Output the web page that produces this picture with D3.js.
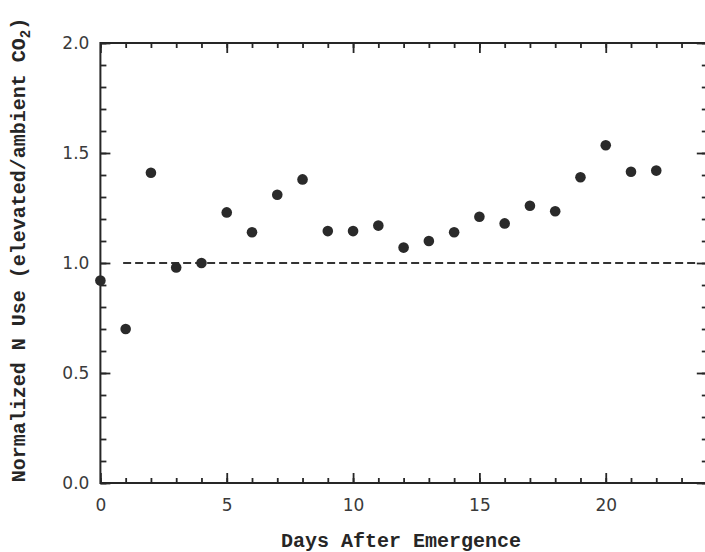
<!DOCTYPE html>
<html>
<head>
<meta charset="utf-8">
<script src="https://cdn.jsdelivr.net/npm/d3@7"></script>
<style>
  html, body { margin: 0; padding: 0; background: #ffffff; }
  svg { display: block; }
</style>
</head>
<body>
<svg id="chart" width="705" height="552"></svg>
<script>
// Days after emergence and normalized N use (elevated / ambient CO2)
const days = [0, 1, 2, 3, 4, 5, 6, 7, 8, 9, 10, 11, 12, 13, 14, 15, 16, 17, 18, 19, 20, 21, 22];
const nUse = [0.92, 0.70, 1.41, 0.98, 1.00, 1.23, 1.14, 1.31, 1.38, 1.145, 1.145, 1.17,
              1.07, 1.10, 1.14, 1.21, 1.18, 1.26, 1.235, 1.39, 1.535, 1.415, 1.42];

// Axis ticks and labels
const xDomain = [0, 24];
const yDomain = [0, 2];
const xMajorTicks = [0, 5, 10, 15, 20];
const xMinorTicks = d3.range(0, 25, 1);
const yMajorTicks = [0.0, 0.5, 1.0, 1.5, 2.0];
const yMajorLabels = ["0.0", "0.5", "1.0", "1.5", "2.0"];
const yMinorTicks = d3.range(0, 2.0001, 0.1);

// Reference line at a ratio of 1 (no CO2 effect)
const refLevel = 1.0;
const refSpan = [0.9, 23.6];

const xTitle = "Days After Emergence";
const yTitleMain = "Normalized N Use (elevated/ambient CO";
const yTitleSub = "2";
const yTitleEnd = ")";

const svg = d3.select("#chart");
const ink = "#262626";

const x = d3.scaleLinear().domain(xDomain).range([100.4, 706.8]);
const y = d3.scaleLinear().domain(yDomain).range([483, 43]);

const [x0, x1] = x.range();
const [yb, yt] = y.range();

// Frame
svg.append("rect")
  .attr("x", x0).attr("y", yt)
  .attr("width", x1 - x0).attr("height", yb - yt)
  .attr("fill", "none").attr("stroke", ink).attr("stroke-width", 2);

function styleAxis(g) {
  g.select(".domain").remove();
  g.selectAll(".tick line").attr("stroke", ink).attr("stroke-width", 1.8);
  g.selectAll(".tick text")
    .attr("fill", "#3a3a3a")
    .style("font-family", "'DejaVu Sans', Arial, sans-serif")
    .style("font-size", "17px");
}

// Bottom axis: major ticks with labels, minor ticks pointing inward
svg.append("g").attr("transform", `translate(0,${yb})`)
  .call(d3.axisBottom(x).tickValues(xMinorTicks).tickSize(-5).tickFormat(""))
  .call(styleAxis);
svg.append("g").attr("transform", `translate(0,${yb})`)
  .call(d3.axisBottom(x).tickValues(xMajorTicks).tickSizeInner(-10).tickSizeOuter(0)
        .tickPadding(16).tickFormat(d3.format("d")))
  .call(styleAxis);

// Top axis (ticks only)
svg.append("g").attr("transform", `translate(0,${yt})`)
  .call(d3.axisTop(x).tickValues(xMinorTicks).tickSize(-5).tickFormat(""))
  .call(styleAxis);
svg.append("g").attr("transform", `translate(0,${yt})`)
  .call(d3.axisTop(x).tickValues(xMajorTicks).tickSize(-10).tickFormat(""))
  .call(styleAxis);

// Left axis
svg.append("g").attr("transform", `translate(${x0},0)`)
  .call(d3.axisLeft(y).tickValues(yMinorTicks).tickSize(-6).tickFormat(""))
  .call(styleAxis);
svg.append("g").attr("transform", `translate(${x0},0)`)
  .call(d3.axisLeft(y).tickValues(yMajorTicks).tickSizeInner(-10).tickSizeOuter(0)
        .tickPadding(11).tickFormat((d, i) => yMajorLabels[i]))
  .call(styleAxis);

// Right axis (ticks only)
svg.append("g").attr("transform", `translate(${x1},0)`)
  .call(d3.axisRight(y).tickValues(yMinorTicks).tickSize(-5).tickFormat(""))
  .call(styleAxis);
svg.append("g").attr("transform", `translate(${x1},0)`)
  .call(d3.axisRight(y).tickValues(yMajorTicks).tickSize(-10).tickFormat(""))
  .call(styleAxis);

// Dashed reference line
svg.append("line")
  .attr("x1", x(refSpan[0])).attr("x2", x(refSpan[1]))
  .attr("y1", y(refLevel)).attr("y2", y(refLevel))
  .attr("stroke", "#333").attr("stroke-width", 1.8)
  .attr("stroke-dasharray", "8,4");

// Data points
svg.append("g").selectAll("circle")
  .data(days.map((d, i) => ({ day: d, v: nUse[i] })))
  .join("circle")
  .attr("cx", d => x(d.day))
  .attr("cy", d => y(d.v))
  .attr("r", 5.3)
  .attr("fill", "#2a2a2a");

// Axis titles
const titleFont = "'Liberation Mono', 'Courier New', monospace";
svg.append("text")
  .attr("x", 401).attr("y", 547)
  .attr("text-anchor", "middle")
  .style("font-family", titleFont).style("font-weight", "bold").style("font-size", "20px")
  .attr("fill", ink)
  .text(xTitle);

const yTitle = svg.append("text")
  .attr("transform", "translate(25,250) rotate(-90)")
  .attr("text-anchor", "middle")
  .style("font-family", titleFont).style("font-weight", "bold").style("font-size", "20px")
  .attr("fill", ink);
yTitle.append("tspan").text(yTitleMain);
yTitle.append("tspan").attr("dy", 5).style("font-size", "14px").text(yTitleSub);
yTitle.append("tspan").attr("dy", -5).text(yTitleEnd);
</script>
</body>
</html>
